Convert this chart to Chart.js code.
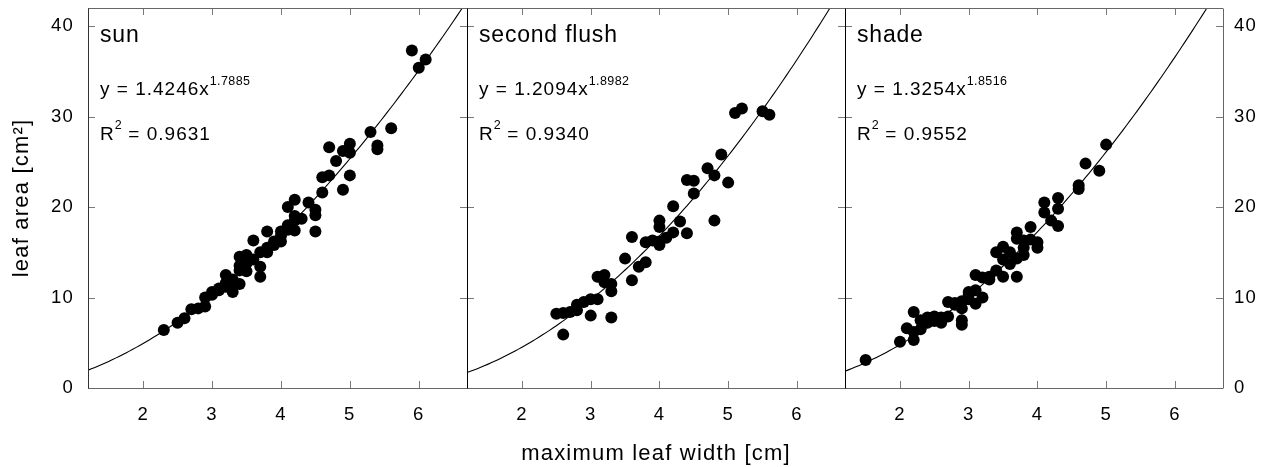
<!DOCTYPE html>
<html>
<head>
<meta charset="utf-8">
<script src="https://cdn.jsdelivr.net/npm/chart.js@4.4.1/dist/chart.umd.min.js"></script>
<style>
html, body { margin: 0; padding: 0; background: #fff; width: 1272px; height: 467px; overflow: hidden; }
canvas { position: absolute; left: 0; top: 0; }
</style>
</head>
<body>
<canvas id="c0" width="1272" height="467"></canvas>
<canvas id="c1" width="1272" height="467"></canvas>
<canvas id="c2" width="1272" height="467"></canvas>
<script>
// ---------------- data ----------------
const panelNames = ["sun", "second flush", "shade"];
const xTickValues = [2, 3, 4, 5, 6];
const yTickValues = [0, 10, 20, 30, 40];
const xRange = [1.2, 6.7];
const yRange = [0, 42];
const xAxisTitle = "maximum leaf width [cm]";
const yAxisTitle = "leaf area [cm²]";

const sunWidth = [2.3, 2.5, 2.6, 2.7, 2.8, 2.9, 2.9, 3.0, 3.0, 3.1, 3.1, 3.2, 3.2, 3.2, 3.3, 3.3, 3.3,
  3.4, 3.4, 3.4, 3.4, 3.5, 3.5, 3.5, 3.5, 3.6, 3.6, 3.7, 3.7, 3.7, 3.8, 3.8, 3.8, 3.9, 3.9,
  4.0, 4.0, 4.0, 4.1, 4.1, 4.1, 4.2, 4.2, 4.2, 4.2, 4.3, 4.4, 4.5, 4.5, 4.5, 4.6, 4.6, 4.7, 4.7,
  4.8, 4.9, 4.9, 5.0, 5.0, 5.0, 5.3, 5.4, 5.4, 5.6, 5.9, 6.0, 6.1];
const sunArea = [6.4, 7.2, 7.7, 8.7, 8.8, 9.0, 10.0, 10.3, 10.6, 11.0, 10.8, 12.5, 11.6, 11.2, 10.6, 12.0, 11.5,
  11.5, 13.5, 14.5, 13.0, 14.7, 13.8, 12.9, 14.0, 16.3, 14.2, 13.4, 12.3, 15.0, 17.3, 15.5, 15.0, 16.2, 15.8,
  17.3, 16.2, 16.8, 20.0, 18.0, 17.5, 20.8, 19.0, 17.4, 18.5, 18.7, 20.5, 19.7, 19.1, 17.3, 21.6, 23.3, 23.5, 26.6,
  25.1, 21.9, 26.2, 27.0, 26.0, 23.5, 28.3, 26.8, 26.4, 28.7, 37.3, 35.4, 36.3];

const flushWidth = [2.5, 2.6, 2.6, 2.7, 2.8, 2.8, 2.9, 3.0, 3.0, 3.1, 3.1, 3.2, 3.2, 3.3, 3.3, 3.3,
  3.5, 3.6, 3.6, 3.7, 3.8, 3.8, 3.9, 4.0, 4.0, 4.0, 4.0, 4.1, 4.2, 4.2, 4.3, 4.4, 4.4, 4.5, 4.5,
  4.7, 4.8, 4.8, 4.9, 5.0, 5.1, 5.2, 5.5, 5.6];
const flushArea = [8.2, 8.3, 5.9, 8.4, 8.6, 9.2, 9.5, 9.8, 8.0, 9.8, 12.3, 12.5, 11.7, 11.5, 10.7, 7.8,
  14.3, 16.7, 11.9, 13.4, 13.9, 16.1, 16.3, 18.5, 17.8, 15.8, 16.2, 16.6, 17.2, 20.1, 18.4, 17.1, 23.0, 22.9, 21.5,
  24.3, 23.5, 18.5, 25.8, 22.7, 30.4, 30.9, 30.6, 30.2];

const shadeWidth = [1.5, 2.0, 2.1, 2.2, 2.2, 2.2, 2.3, 2.3, 2.4, 2.4, 2.5, 2.5, 2.6, 2.6, 2.7, 2.7, 2.8, 2.8,
  2.9, 2.9, 2.9, 2.9, 3.0, 3.0, 3.0, 3.1, 3.1, 3.1, 3.2, 3.2, 3.3, 3.3, 3.4, 3.4, 3.5, 3.5, 3.5, 3.6, 3.6,
  3.7, 3.7, 3.7, 3.7, 3.8, 3.8, 3.8, 3.9, 3.9, 4.0, 4.0, 4.1, 4.1, 4.2, 4.3, 4.3, 4.3, 4.6, 4.6, 4.7, 4.9, 5.0];
const shadeArea = [3.1, 5.1, 6.6, 8.4, 5.3, 6.2, 6.5, 7.5, 7.8, 7.2, 7.9, 7.4, 7.2, 7.8, 7.9, 9.5, 9.2, 9.4,
  7.5, 7.0, 8.8, 9.6, 10.3, 9.8, 10.6, 9.3, 10.8, 12.5, 10.0, 12.2, 12.0, 12.3, 15.0, 13.0, 15.6, 12.3, 14.2, 15.0, 13.7,
  17.2, 12.3, 14.3, 16.5, 16.3, 14.7, 15.5, 17.8, 16.4, 16.1, 15.5, 20.5, 19.4, 18.5, 21.0, 19.8, 17.9, 22.4, 22.0, 24.8, 24.0, 26.9];

const fitA = [1.4246, 1.2094, 1.3254];
const fitB = [1.7885, 1.8982, 1.8516];
const fitR2 = ["0.9631", "0.9340", "0.9552"];

const widths = [sunWidth, flushWidth, shadeWidth];
const areas = [sunArea, flushArea, shadeArea];

// ---------------- layout / style ----------------
const W = 1272, H = 467, TOP = 8, BOTTOM = 388;
const panelEdges = [[88, 467], [467, 845], [845, 1223]];
const FONT = "'Liberation Sans', Arial, Helvetica, sans-serif";

function fitCurve(i) {
  const pts = [];
  for (let k = 0; k <= 110; k++) {
    const x = xRange[0] + k * 0.05;
    pts.push({ x: x, y: fitA[i] * Math.pow(x, fitB[i]) });
  }
  return pts;
}

function drawTextSpaced(ctx, text, x, y, spacing) {
  ctx.letterSpacing = spacing + 'px';
  ctx.fillText(text, x, y);
  const w = ctx.measureText(text).width;
  ctx.letterSpacing = '0px';
  return w;
}

const framePlugin = {
  id: 'frame',
  beforeDraw(chart) {
    chart.ctx.letterSpacing = '1.2px';
  },
  afterDraw(chart) {
    const { ctx, chartArea: ca, scales } = chart;
    const x = scales.x, y = scales.y;
    const i = chart.options.plugins.frame.index;
    ctx.save();
    ctx.letterSpacing = '0px';
    ctx.lineWidth = 1;
    const len = 7;
    // tick marks (inward)
    ctx.strokeStyle = '#7a7a7a';
    ctx.beginPath();
    xTickValues.forEach(v => {
      const px = Math.round(x.getPixelForValue(v)) + 0.5;
      ctx.moveTo(px, ca.top); ctx.lineTo(px, ca.top + len);
      ctx.moveTo(px, ca.bottom); ctx.lineTo(px, ca.bottom - len);
    });
    yTickValues.forEach(v => {
      if (v === 0) return;
      const py = Math.round(y.getPixelForValue(v)) + 0.5;
      ctx.moveTo(ca.left, py); ctx.lineTo(ca.left + len, py);
      ctx.moveTo(ca.right, py); ctx.lineTo(ca.right - len, py);
    });
    ctx.stroke();
    // frame lines
    const l = Math.round(ca.left) + 0.5, r = Math.round(ca.right) + 0.5;
    const t = Math.round(ca.top) + 0.5, b = Math.round(ca.bottom) + 0.5;
    ctx.strokeStyle = '#666';
    ctx.beginPath();
    ctx.moveTo(ca.left, t); ctx.lineTo(ca.right, t);
    ctx.moveTo(ca.left, b); ctx.lineTo(ca.right, b);
    ctx.stroke();
    ctx.strokeStyle = i === 0 ? '#333' : '#000';
    ctx.beginPath(); ctx.moveTo(l, t); ctx.lineTo(l, b); ctx.stroke();
    ctx.strokeStyle = i === 2 ? '#666' : '#000';
    ctx.beginPath(); ctx.moveTo(r, t); ctx.lineTo(r, b); ctx.stroke();

    // annotations
    ctx.fillStyle = '#000';
    ctx.textBaseline = 'alphabetic';
    ctx.textAlign = 'left';
    const tx = ca.left + 12;
    ctx.font = '23px ' + FONT;
    drawTextSpaced(ctx, panelNames[i], tx, ca.top + 34, 0.8);
    ctx.font = '19px ' + FONT;
    let w = drawTextSpaced(ctx, 'y = ' + fitA[i].toFixed(4) + 'x', tx, ca.top + 86.5, 1);
    ctx.font = '12.5px ' + FONT;
    drawTextSpaced(ctx, fitB[i].toFixed(4), tx + w, ca.top + 77, 0.4);
    ctx.font = '19px ' + FONT;
    w = drawTextSpaced(ctx, 'R', tx, ca.top + 132, 1);
    ctx.font = '12.5px ' + FONT;
    const w2 = drawTextSpaced(ctx, '2', tx + w, ca.top + 120.5, 0.4);
    ctx.font = '19px ' + FONT;
    drawTextSpaced(ctx, ' = ' + fitR2[i], tx + w + w2, ca.top + 132, 1);
    ctx.restore();
  }
};

function keepTicks(values) {
  return function (scale) {
    scale.ticks = values.map(v => ({ value: v }));
  };
}

function makeChart(i) {
  const [L, R] = panelEdges[i];
  const pad = { top: TOP, bottom: 0, left: 0, right: 0 };
  if (i === 0) { pad.left = 0; pad.right = W - R; }
  if (i === 1) { pad.left = L; pad.right = W - R; }
  if (i === 2) { pad.left = L; pad.right = 0; }
  const yWidth = i === 0 ? L : (i === 2 ? W - R : 0);

  const points = widths[i].map((v, k) => ({ x: v, y: areas[i][k] }));

  return new Chart(document.getElementById('c' + i), {
    type: 'scatter',
    data: {
      datasets: [
        {
          type: 'line',
          data: fitCurve(i),
          borderColor: '#000',
          borderWidth: 1.1,
          pointRadius: 0,
          fill: false,
          tension: 0
        },
        {
          data: points,
          backgroundColor: '#000',
          borderColor: '#000',
          borderWidth: 0,
          pointRadius: 6,
          pointHoverRadius: 6
        }
      ]
    },
    options: {
      responsive: false,
      animation: false,
      events: [],
      layout: { padding: pad, autoPadding: false },
      plugins: {
        legend: { display: false },
        tooltip: { enabled: false },
        frame: { index: i }
      },
      scales: {
        x: {
          type: 'linear',
          position: 'bottom',
          min: xRange[0],
          max: xRange[1],
          afterBuildTicks: keepTicks(xTickValues),
          afterFit(scale) {
            scale.height = H - BOTTOM;
            scale.paddingLeft = 0; scale.paddingRight = 0;
            scale.paddingTop = 0; scale.paddingBottom = 0;
          },
          grid: { display: false, drawTicks: false },
          border: { display: false },
          ticks: {
            color: '#000',
            font: { family: FONT, size: 18.5 },
            padding: 16,
            maxRotation: 0,
            autoSkip: false
          },
          title: {
            display: i === 1,
            text: xAxisTitle,
            color: '#000',
            font: { family: FONT, size: 22 },
            padding: { top: 0, bottom: 0 }
          }
        },
        y: {
          type: 'linear',
          display: i !== 1,
          position: i === 2 ? 'right' : 'left',
          min: yRange[0],
          max: yRange[1],
          afterBuildTicks: keepTicks(yTickValues),
          afterFit(scale) {
            scale.width = yWidth;
            scale.paddingLeft = 0; scale.paddingRight = 0;
            scale.paddingTop = 0; scale.paddingBottom = 0;
          },
          grid: { display: false, drawTicks: false },
          border: { display: false },
          ticks: {
            color: '#000',
            font: { family: FONT, size: 18.5 },
            padding: i === 2 ? 11 : 14,
            autoSkip: false
          },
          title: {
            display: i === 0,
            text: yAxisTitle,
            color: '#000',
            font: { family: FONT, size: 22 },
            padding: { top: 9, bottom: 0 }
          }
        }
      }
    },
    plugins: [framePlugin]
  });
}

[0, 1, 2].forEach(makeChart);
</script>
</body>
</html>
